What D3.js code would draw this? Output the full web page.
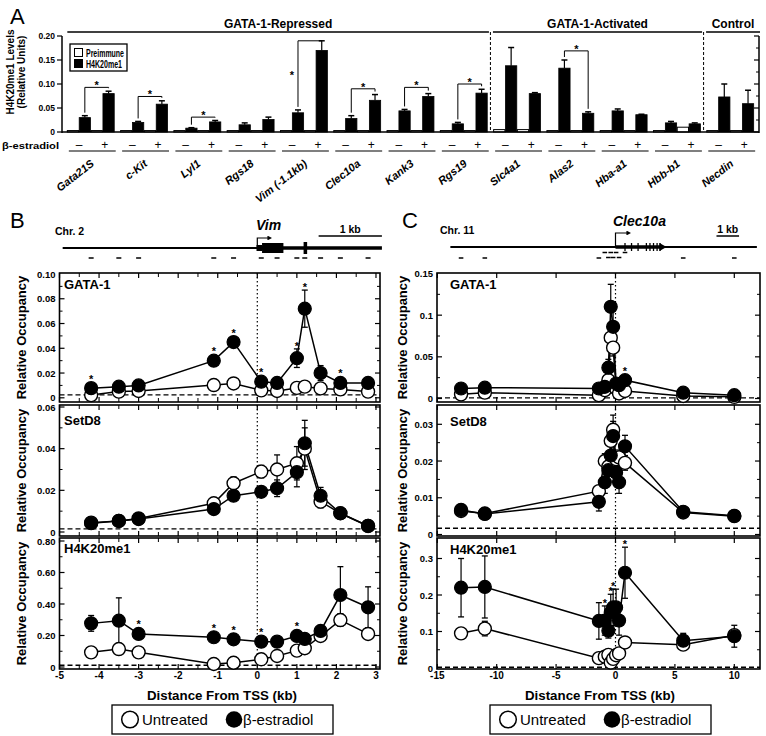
<!DOCTYPE html>
<html><head><meta charset="utf-8">
<script src="https://cdn.jsdelivr.net/npm/d3@7/dist/d3.min.js"></script>
<style>
body{margin:0;background:#fff}
svg{display:block;opacity:0.999}
text{font-family:"Liberation Sans",Arial,Helvetica,sans-serif;fill:#000}
</style></head><body>
<svg id="chart" width="766" height="736" viewBox="0 0 766 736"></svg>
<script>
// ================= DATA =================
// Panel A
const genes = ["Gata21S","c-Kit","Lyl1","Rgs18","Vim (-1.1kb)","Clec10a","Kank3","Rgs19","Slc4a1","Alas2","Hba-a1","Hbb-b1","Necdin"];
const preMinus   = [0.003,0.003,0.003,0.003,0.003,0.003,0.003,0.003,0.005,0.003,0.003,0.003,0.003];
const h4Minus    = [0.030,0.020,0.008,0.015,0.040,0.028,0.044,0.017,0.138,0.133,0.044,0.019,0.073];
const h4MinusErr = [0.004,0.002,0.001,0.004,0.006,0.006,0.003,0.003,0.038,0.017,0.004,0.003,0.027];
const prePlus    = [0.003,0.003,0.003,0.003,0.003,0.003,0.003,0.003,0.005,0.003,0.003,0.010,0.003];
const h4Plus     = [0.080,0.058,0.021,0.026,0.170,0.066,0.074,0.081,0.080,0.039,0.036,0.017,0.059];
const h4PlusErr  = [0.005,0.007,0.003,0.005,0.020,0.012,0.006,0.008,0.002,0.003,0.001,0.002,0.028];
const bracketLevel = [0.093,0.074,0.031,null,0.190,0.090,0.093,0.100,null,0.169,null,null,null];
const starLeftOf = ["Vim (-1.1kb)"];
const groupHeaders = [{label:"GATA-1-Repressed",from:0,to:7},{label:"GATA-1-Activated",from:8,to:11},{label:"Control",from:12,to:12}];
const aTicks = [0,0.05,0.10,0.15,0.20];

// Panel B (Vim locus)
const bX = [-4.2,-3.5,-3.0,-1.1,-0.6,0.1,0.5,1.0,1.2,1.6,2.1,2.8];
const bGataU    = [0.0022,0.005,0.0055,0.0103,0.0116,0.006,0.0055,0.008,0.009,0.0076,0.0068,0.005];
const bGataUErr = [0.001,0.001,0.001,0.001,0.001,0.001,0.001,0.001,0.001,0.001,0.001,0.001];
const bGataE    = [0.0078,0.009,0.010,0.030,0.045,0.013,0.012,0.032,0.072,0.020,0.012,0.012];
const bGataEErr = [0.001,0.001,0.001,0.002,0.002,0.002,0.001,0.0075,0.015,0.006,0.001,0.001];
const bGataStars = [0,3,4,5,7,8,10];
const bSetU    = [0.0045,0.0053,0.0065,0.0138,0.0234,0.029,0.030,0.033,0.040,0.0146,0.009,0.0029];
const bSetUErr = [0.0005,0.0005,0.0005,0.0012,0.003,0.003,0.007,0.008,0.010,0.003,0.0008,0.0005];
const bSetE    = [0.0042,0.0053,0.0062,0.011,0.0174,0.0193,0.021,0.0287,0.0426,0.0174,0.009,0.0029];
const bSetEErr = [0.0005,0.0005,0.0005,0.002,0.001,0.001,0.004,0.007,0.011,0.004,0.0008,0.0005];
const bSetStars = [];
const bH4U    = [0.093,0.114,0.093,0.019,0.027,0.049,0.070,0.104,0.119,0.197,0.298,0.210];
const bH4UErr = [0.01,0.02,0.01,0.005,0.005,0.01,0.01,0.01,0.01,0.015,0.04,0.02];
const bH4E    = [0.277,0.294,0.210,0.189,0.176,0.161,0.161,0.197,0.178,0.229,0.457,0.379];
const bH4EErr = [0.05,0.145,0.02,0.015,0.015,0.015,0.015,0.02,0.02,0.03,0.18,0.13];
const bH4Stars = [2,3,4,5,7];

// Panel C (Clec10a locus)
const cX = [-13,-11,-1.4,-0.9,-0.6,-0.4,-0.2,0.05,0.3,0.8,5.7,10];
const cGataU    = [0.005,0.007,0.004,0.010,0.022,0.073,0.061,0.012,0.006,0.009,0.003,0.002];
const cGataUErr = [0.001,0.001,0.001,0.002,0.005,0.015,0.010,0.002,0.001,0.001,0.001,0.001];
const cGataE    = [0.012,0.013,0.012,0.014,0.037,0.110,0.086,0.018,0.016,0.022,0.007,0.004];
const cGataEErr = [0.002,0.002,0.002,0.003,0.010,0.027,0.020,0.004,0.003,0.003,0.002,0.001];
const cGataStars = [9];
const cSetU    = [0.0064,0.0057,0.0118,0.0200,0.0185,0.0255,0.0285,0.0205,0.0210,0.0195,0.0060,0.0050];
const cSetUErr = [0.0005,0.0005,0.001,0.002,0.002,0.003,0.004,0.002,0.002,0.002,0.0005,0.0005];
const cSetE    = [0.0067,0.0056,0.0089,0.0142,0.0175,0.0215,0.0268,0.0168,0.0142,0.0240,0.0062,0.0051];
const cSetEErr = [0.0015,0.0005,0.0025,0.003,0.003,0.003,0.004,0.003,0.003,0.003,0.0005,0.0005];
const cSetStars = [];
const cH4U    = [0.095,0.108,0.027,0.031,0.036,0.015,0.025,0.035,0.040,0.070,0.064,0.090];
const cH4UErr = [0.015,0.02,0.005,0.005,0.005,0.005,0.005,0.005,0.005,0.005,0.01,0.01];
const cH4E    = [0.220,0.222,0.129,0.130,0.102,0.152,0.166,0.166,0.130,0.261,0.075,0.087];
const cH4EErr = [0.08,0.085,0.05,0.04,0.02,0.05,0.05,0.05,0.04,0.07,0.02,0.03];
const cH4Stars = [3,4,5,6,9];

const bXTicks = [-5,-4,-3,-2,-1,0,1,2,3];
const cXTicks = [-15,-10,-5,0,5,10];
const legendLabels = ["Untreated","β-estradiol"];

// ================= DRAW =================
const svg = d3.select("#chart");
svg.append("rect").attr("width",766).attr("height",736).attr("fill","#fff");
const K = "#000";
function line(g,x1,y1,x2,y2,w,dash){const l=g.append("line").attr("x1",x1).attr("y1",y1).attr("x2",x2).attr("y2",y2).attr("stroke",K).attr("stroke-width",w||1);if(dash)l.attr("stroke-dasharray",dash);return l;}
function txt(g,x,y,s,size,opts){opts=opts||{};const t=g.append("text").attr("x",x).attr("y",y).attr("font-size",size).text(s);
  if(opts.bold)t.attr("font-weight","bold"); if(opts.italic)t.attr("font-style","italic"); if(opts.anchor)t.attr("text-anchor",opts.anchor);
  if(opts.len)t.attr("textLength",opts.len).attr("lengthAdjust","spacingAndGlyphs"); if(opts.transform)t.attr("transform",opts.transform); return t;}

// ---------- Panel A ----------
const A = {left:62, right:759, top:36, base:132};
const gA = svg.append("g");
const xA = d3.scaleBand().domain(genes).range([A.left, A.right]).paddingInner(0.12).paddingOuter(0.1);
const barKeys = ["pm","hm","pp","hp"];
const xA1 = d3.scaleBand().domain(barKeys).range([0, xA.bandwidth()]).paddingInner(0.05);
const yA = d3.scaleLinear().domain([0,0.2]).range([A.base, A.top]);
const step = xA.step(), bw = xA.bandwidth();
const boundary = i => xA(genes[i]) - step*0.06;

txt(gA,10,24,"A",22);

txt(gA,0,0,"H4K20me1 Levels",10,{bold:true,anchor:"middle",transform:"translate(14,72) rotate(-90)"});
txt(gA,0,0,"(Relative Units)",10,{bold:true,anchor:"middle",transform:"translate(25,72) rotate(-90)"});

groupHeaders.forEach(h=>{
  const l = h.from===0 ? xA(genes[0]) : boundary(h.from)+2.5;
  const r = h.to===genes.length-1 ? A.right+1 : boundary(h.to+1)-1.5;
  line(gA,l,32,r,32,1.5);
  txt(gA,(l+r)/2,28,h.label,12,{bold:true,anchor:"middle"});
});
[8,12].forEach(i=>line(gA,boundary(i),32,boundary(i),A.base,1,"3,2"));

const barW = xA1.bandwidth();
genes.forEach((g,i)=>{
  const vals = {pm:[preMinus[i],0],hm:[h4Minus[i],h4MinusErr[i]],pp:[prePlus[i],0],hp:[h4Plus[i],h4PlusErr[i]]};
  barKeys.forEach(k=>{
    const [v,e] = vals[k];
    const x = xA(g)+xA1(k);
    const open = (k==="pm"||k==="pp");
    if(e>0){ const xc=x+barW/2; line(gA,xc,yA(v),xc,yA(v+e),1.2); line(gA,xc-3,yA(v+e),xc+3,yA(v+e),1.5); }
    gA.append("rect").attr("x",x).attr("y",yA(v)).attr("width",barW).attr("height",Math.max(0.8,yA(0)-yA(v)))
      .attr("fill",open?"#fff":K).attr("stroke",K).attr("stroke-width",open?1:0.8);
  });
  const lev = bracketLevel[i];
  if(lev!==null){
    const xl = xA(g)+xA1("hm")+barW/2, xr = xA(g)+xA1("hp")+barW/2;
    const yl = yA(h4Minus[i]+h4MinusErr[i])-3, yr = yA(h4Plus[i]+h4PlusErr[i])-3;
    gA.append("path").attr("d",`M${xl},${yl}V${yA(lev)}H${xr}V${Math.max(yA(lev),yr)}`).attr("fill","none").attr("stroke",K).attr("stroke-width",1);
    if(starLeftOf.includes(g)) txt(gA,xl-6,(yl+yA(lev))/2+5,"*",11,{bold:true,anchor:"middle"});
    else txt(gA,(xl+xr)/2,yA(lev)+2,"*",11,{bold:true,anchor:"middle"});
  }
  txt(gA,xA(g)+bw*0.25,149,"–",12,{anchor:"middle"});
  txt(gA,xA(g)+bw*0.8,149,"+",12,{anchor:"middle"});
  line(gA,xA(g)+1.5,151,xA(g)+bw+1.5,151,1.2);
  const cx = xA(g)+bw/2+4;
  txt(gA,0,0,g,11,{italic:true,bold:true,anchor:"end",transform:`translate(${cx},165) rotate(-38)`});
});
txt(gA,2,149,"β-estradiol",9.5,{bold:true,len:57});

line(gA,A.left,A.top,A.left,A.base+1,1.5);
line(gA,A.right,A.top,A.right,A.base+1,1.5);
line(gA,A.left,A.base,A.right,A.base,1.5);
aTicks.forEach(t=>{
  line(gA,A.left-5,yA(t),A.left,yA(t),1.2);
  line(gA,A.right-5,yA(t),A.right,yA(t),1.2);
  txt(gA,A.left-7,yA(t)+3,t===0?"0":d3.format(".2f")(t),8.5,{bold:true,anchor:"end"});
});
d3.range(0.025,0.2,0.05).forEach(t=>line(gA,A.right-3,yA(t),A.right,yA(t),1));

gA.append("rect").attr("x",70).attr("y",44).attr("width",57).attr("height",27).attr("fill","#fff").attr("stroke",K).attr("stroke-width",1.3);
gA.append("rect").attr("x",74.5).attr("y",48.5).attr("width",8).attr("height",8).attr("fill","#fff").attr("stroke",K);
gA.append("rect").attr("x",74.5).attr("y",59.5).attr("width",8).attr("height",8).attr("fill",K).attr("stroke",K);
txt(gA,86,56.5,"Preimmune",10,{bold:true,len:38});
txt(gA,86,67.5,"H4K20me1",10,{bold:true,len:36});

// ---------- Panels B & C ----------
const arrowDefs = svg.append("defs");
arrowDefs.append("marker").attr("id","ah").attr("viewBox","0 0 10 10").attr("refX",2).attr("refY",5)
  .attr("markerWidth",4).attr("markerHeight",4).attr("orient","auto")
  .append("path").attr("d","M0,0L10,5L0,10Z").attr("fill",K);

function drawPanel(P){
  const g = svg.append("g");
  const x = P.x;
  P.subs.forEach(s=>{
    const y = s.y;
    line(g,P.left,y(s.base),P.right,y(s.base),1.3,"5,3");
    s.minor.forEach(t=>{ if(y(t)>s.top+1 && y(t)<s.bottom-1){ line(g,P.left,y(t),P.left+3,y(t),1); line(g,P.right-3,y(t),P.right,y(t),1);} });
    s.ticks.forEach(t=>{
      if(y(t)>s.top+1 && y(t)<s.bottom-1){ line(g,P.left,y(t),P.left+5,y(t),1.2); line(g,P.right-5,y(t),P.right,y(t),1.2);} 
      txt(g,P.left-4,y(t)+3.5,s.fmt(t),9.5,{bold:true,anchor:"end"});
    });
    P.xMinor.forEach(t=>{ line(g,x(t),s.top,x(t),s.top+4,1); line(g,x(t),s.bottom-4,x(t),s.bottom,1); });
    P.xMajor.forEach(t=>{ line(g,x(t),s.top,x(t),s.top+5,1.2); line(g,x(t),s.bottom-5,x(t),s.bottom,1.2); });
    g.append("rect").attr("x",P.left).attr("y",s.top).attr("width",P.right-P.left).attr("height",s.bottom-s.top)
      .attr("fill","none").attr("stroke",K).attr("stroke-width",1.6);
    txt(g,P.titleX,s.titleY,s.title,13,{bold:true});
    txt(g,0,0,"Relative Occupancy",13,{bold:true,anchor:"middle",transform:`translate(${P.ylabX},${(s.top+s.bottom)/2}) rotate(-90)`});
  });
  line(g,x(0),P.subs[0].top,x(0),P.subs[P.subs.length-1].bottom,1.2,"1.5,2.5");
  P.subs.forEach(s=>{
    const y = s.y;
    const gen = d3.line().x((d,i)=>x(P.xs[i])).y(d=>y(d));
    g.append("path").attr("d",gen(s.U)).attr("fill","none").attr("stroke",K).attr("stroke-width",1.5);
    g.append("path").attr("d",gen(s.E)).attr("fill","none").attr("stroke",K).attr("stroke-width",1.5);
    [[s.U,s.UE],[s.E,s.EE]].forEach(([v,e])=>{
      v.forEach((d,i)=>{ const xx=x(P.xs[i]); const t=y(d+e[i]), b=y(Math.max(0,d-e[i]));
        line(g,xx,t,xx,b,1.2); line(g,xx-3,t,xx+3,t,1.3); line(g,xx-3,b,xx+3,b,1.3); });
    });
    s.U.forEach((d,i)=>g.append("circle").attr("cx",x(P.xs[i])).attr("cy",y(d)).attr("r",6.5).attr("fill","#fff").attr("stroke",K).attr("stroke-width",1.4));
    s.E.forEach((d,i)=>g.append("circle").attr("cx",x(P.xs[i])).attr("cy",y(d)).attr("r",6.5).attr("fill",K).attr("stroke",K).attr("stroke-width",1.2));
    s.stars.forEach(i=>{ const top = Math.min(y(s.E[i])-6.5, y(s.E[i]+s.EE[i])); txt(g,x(P.xs[i]),top+1,"*",11,{bold:true,anchor:"middle"}); });
  });
  const last = P.subs[P.subs.length-1];
  P.xMajor.forEach(t=>txt(g,x(t),last.bottom+10,String(t),10,{bold:true,anchor:"middle"}));
  txt(g,P.axisLabelX,700,"Distance From TSS (kb)",13.3,{bold:true,anchor:"middle"});
  const L = P.legendX;
  g.append("rect").attr("x",L).attr("y",705).attr("width",221).attr("height",29).attr("fill","#fff").attr("stroke",K).attr("stroke-width",1.3);
  g.append("circle").attr("cx",L+18).attr("cy",719.5).attr("r",8.3).attr("fill","#fff").attr("stroke",K).attr("stroke-width",1.5);
  txt(g,L+30,725,legendLabels[0],15);
  g.append("circle").attr("cx",L+122).attr("cy",719.5).attr("r",8.3).attr("fill",K);
  txt(g,L+131,725,legendLabels[1],15);
  return g;
}

const xB = d3.scaleLinear().domain([-5,0]).range([59.5,257.3]);
const subsB = [
  {title:"GATA-1",titleY:288.5,top:273,bottom:402,y:d3.scaleLinear().domain([0,0.1]).range([397.8,274]),ticks:[0,0.02,0.04,0.06,0.08,0.10],minor:d3.range(0.01,0.1,0.02),fmt:d=>d===0?"0":d3.format(".2f")(d),base:0.0024,U:bGataU,UE:bGataUErr,E:bGataE,EE:bGataEErr,stars:bGataStars},
  {title:"SetD8",titleY:425,top:405,bottom:536,y:d3.scaleLinear().domain([0,0.06]).range([532,407]),ticks:[0,0.02,0.04,0.06],minor:d3.range(0.01,0.06,0.02),fmt:d=>d===0?"0":d3.format(".2f")(d),base:0.0015,U:bSetU,UE:bSetUErr,E:bSetE,EE:bSetEErr,stars:bSetStars},
  {title:"H4K20me1",titleY:553,top:538,bottom:669,y:d3.scaleLinear().domain([0,0.8]).range([667,541]),ticks:[0,0.2,0.4,0.6,0.8],minor:d3.range(0.1,0.8,0.2),fmt:d=>d===0?"0":d3.format(".2f")(d),base:0.011,U:bH4U,UE:bH4UErr,E:bH4E,EE:bH4EErr,stars:bH4Stars}
];
drawPanel({x:xB,left:59.5,right:380,xs:bX,xMajor:bXTicks,xMinor:d3.range(-4.5,3.1,1),subs:subsB,titleX:64,ylabX:26,axisLabelX:222,legendX:112});

const xC = d3.scaleLinear().domain([-10,10]).range([496.7,734.3]);
const subsC = [
  {title:"GATA-1",titleY:288.5,top:273,bottom:402,y:d3.scaleLinear().domain([0,0.15]).range([398.5,273.5]),ticks:[0,0.05,0.1,0.15],minor:d3.range(0.025,0.15,0.05),fmt:d=>String(d),base:0.0008,U:cGataU,UE:cGataUErr,E:cGataE,EE:cGataEErr,stars:cGataStars},
  {title:"SetD8",titleY:425.5,top:405,bottom:536,y:d3.scaleLinear().domain([0,0.03]).range([534.5,424.3]),ticks:[0,0.01,0.02,0.03],minor:d3.range(0.005,0.035,0.01),fmt:d=>String(d),base:0.0017,U:cSetU,UE:cSetUErr,E:cSetE,EE:cSetEErr,stars:cSetStars},
  {title:"H4K20me1",titleY:554,top:538,bottom:669,y:d3.scaleLinear().domain([0,0.3]).range([668,558.5]),ticks:[0,0.1,0.2,0.3],minor:d3.range(0.05,0.35,0.1),fmt:d=>String(d),base:0.002,U:cH4U,UE:cH4UErr,E:cH4E,EE:cH4EErr,stars:cH4Stars}
];
drawPanel({x:xC,left:437,right:760,xs:cX,xMajor:cXTicks,xMinor:[],subs:subsC,titleX:450,ylabX:407,axisLabelX:600,legendX:490});

// ---------- Gene diagrams ----------
const gD = svg.append("g");
txt(gD,10,228,"B",22);
txt(gD,55,235,"Chr. 2",10.5,{bold:true});
const yB = 248;
line(gD,xB(-4.92),yB,xB(0),yB,2.2);
line(gD,xB(0),yB,xB(3.15),yB,3.5);
[[-0.02,0.12,6],[0.12,0.66,10],[1.17,1.26,12]].forEach(([a,b,h])=>gD.append("rect").attr("x",xB(a)).attr("y",yB-h/2).attr("width",xB(b)-xB(a)).attr("height",h).attr("fill",K));
gD.append("path").attr("d",`M${xB(0)},${yB}V238H${xB(0.28)}`).attr("fill","none").attr("stroke",K).attr("stroke-width",1.2).attr("marker-end","url(#ah)");
txt(gD,256,230,"Vim",14,{bold:true,italic:true});
line(gD,xB(1.55),236,xB(3.15),236,1.5);
txt(gD,(xB(1.55)+xB(3.15))/2,232.5,"1 kb",10.5,{bold:true,anchor:"middle"});
bX.forEach(v=>line(gD,xB(v)-2.5,258,xB(v)+2.5,258,1.5));

txt(gD,402,228,"C",22);
txt(gD,440,234,"Chr. 11",10.5,{bold:true});
const yCc = 247;
line(gD,xC(-13.9),yCc,xC(11.9),yCc,2.2);
line(gD,xC(0),yCc,xC(3.9),yCc,3.5);
gD.append("path").attr("d",`M${xC(3.7)},${yCc-4}L${xC(4.3)},${yCc}L${xC(3.7)},${yCc+4}Z`).attr("fill",K);
[0.8,1.35,1.9,2.6,2.9,3.2,3.5,3.75].forEach(v=>line(gD,xC(v),yCc-4,xC(v),yCc+4,1.3));
gD.append("path").attr("d",`M${xC(0)},${yCc}V233H${xC(1.0)}`).attr("fill","none").attr("stroke",K).attr("stroke-width",1.2).attr("marker-end","url(#ah)");
txt(gD,613,226,"Clec10a",14,{bold:true,italic:true});
line(gD,xC(8.5),236,xC(10.4),236,1.5);
txt(gD,(xC(8.5)+xC(10.4))/2,232.5,"1 kb",10.5,{bold:true,anchor:"middle"});
let alt=0;
cX.forEach(v=>{ const yy = Math.abs(v)<1 ? (alt++%2===0?252.5:257.5) : 258; line(gD,xC(v)-2.3,yy,xC(v)+2.3,yy,1.5); });
</script></body></html>
